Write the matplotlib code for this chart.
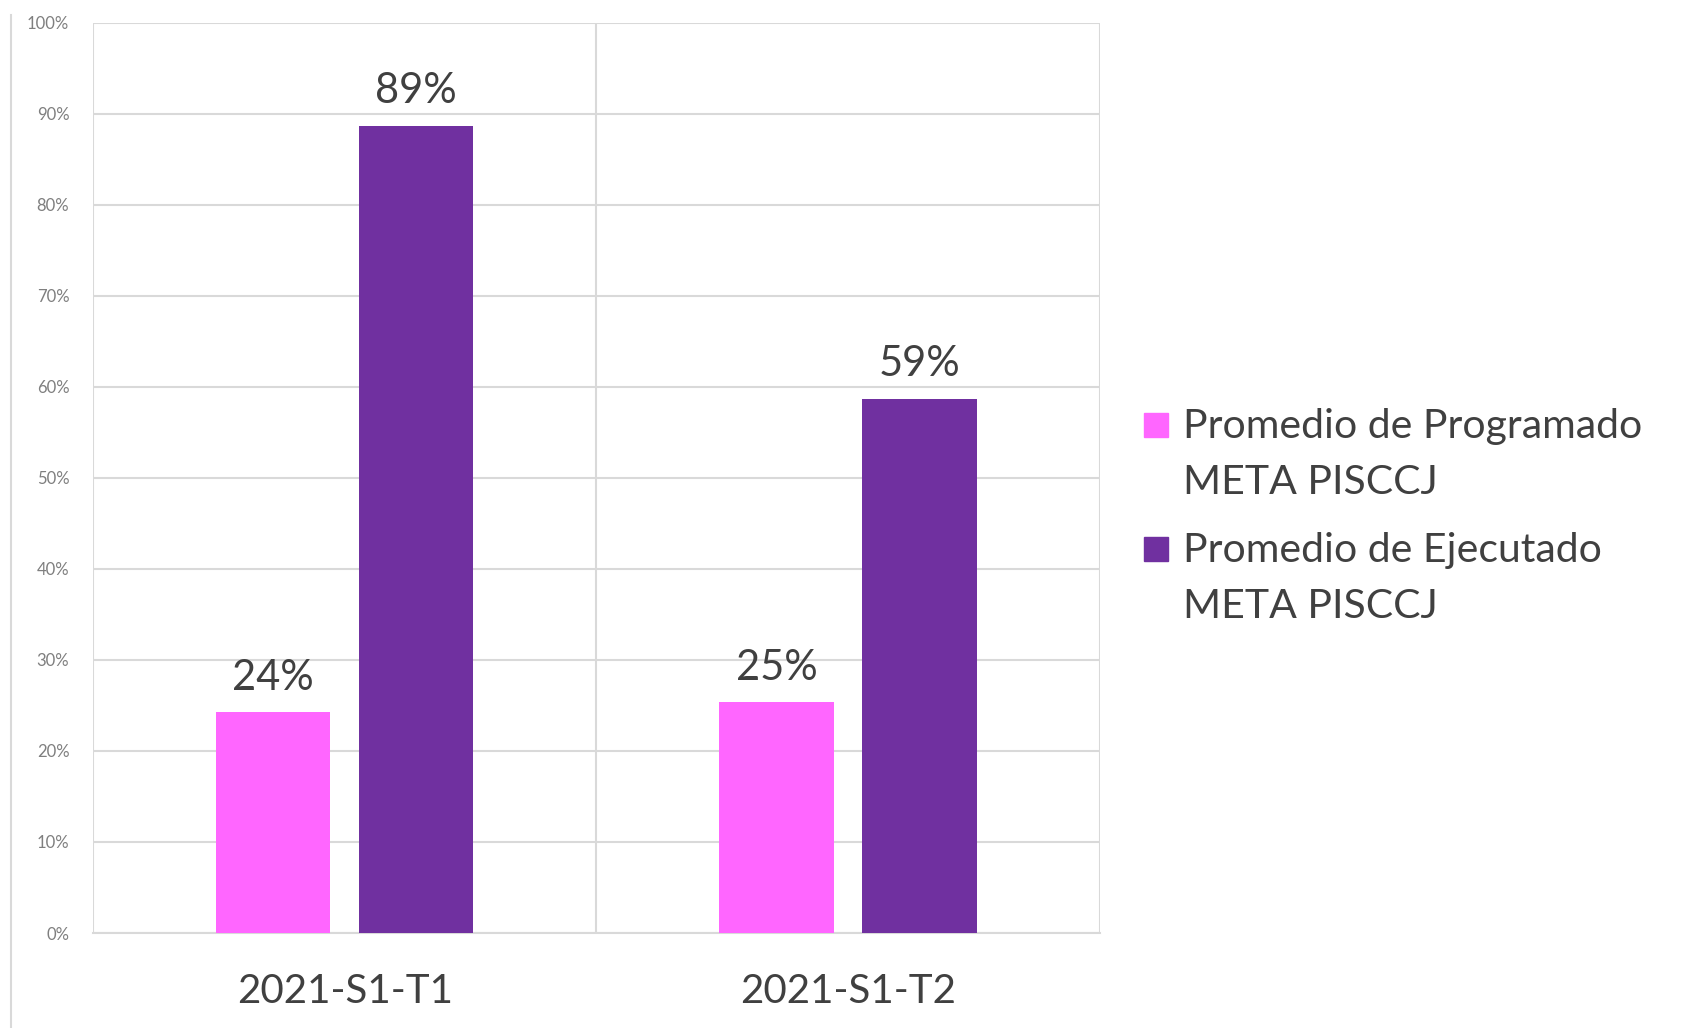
import numpy as np
import matplotlib.pyplot as plt
from matplotlib.patches import Rectangle
from matplotlib.lines import Line2D

# datos del gráfico
periodos = ['2021-S1-T1', '2021-S1-T2']
programado = [24.3, 25.4]
ejecutado = [88.7, 58.7]
series = ['Promedio de Programado\nMETA PISCCJ', 'Promedio de Ejecutado\nMETA PISCCJ']
colores = ['#FF66FF', '#7030A0']

plt.rcParams['font.family'] = ['Lato', 'DejaVu Sans']

fig = plt.figure(figsize=(16.96, 10.28), dpi=100)
ax = fig.add_axes([0.0548, 0.0924, 0.5936, 0.8855])

x = np.arange(len(periodos))
ancho = 0.227
desp = 0.142
b1 = ax.bar(x - desp, programado, ancho, color=colores[0], zorder=3)
b2 = ax.bar(x + desp, ejecutado, ancho, color=colores[1], zorder=3)

for b in (b1, b2):
    ax.bar_label(b, labels=[f'{v:.0f}%' for v in b.datavalues],
                 padding=11, fontsize=30, color='#404040')

ax.set_xlim(-0.5, len(periodos) - 0.5)
ax.set_ylim(0, 100)
ax.set_yticks(np.arange(0, 101, 10))
ax.set_yticklabels([f'{t}%' for t in range(0, 101, 10)])
ax.set_xticks(x)
ax.set_xticklabels(periodos)
ax.set_xticks(np.arange(-0.5, len(periodos), 0.5), minor=True)

ax.tick_params(axis='y', length=0, pad=17, labelsize=12, labelcolor='#7F7F7F')
ax.tick_params(axis='x', which='major', length=0, pad=29, labelsize=29, labelcolor='#404040')
ax.tick_params(axis='x', which='minor', length=0)

ax.grid(axis='y', color='#D9D9D9', linewidth=1.5, zorder=0)
ax.grid(axis='x', which='minor', color='#D9D9D9', linewidth=1.5, zorder=0)
for s in ax.spines.values():
    s.set_visible(False)
ax.spines['bottom'].set_visible(True)
ax.spines['bottom'].set_color('#D9D9D9')
ax.spines['bottom'].set_linewidth(1.5)

# borde izquierdo de la imagen
fig.add_artist(Line2D([0.0065, 0.0065], [0.0, 0.985], color='#D9D9D9', linewidth=1.5))

# leyenda manual (cuadro alineado con la primera línea)
ley_base = [438, 562]
for col, txt, yb in zip(colores, series, ley_base):
    fig.add_artist(Rectangle((1144 / 1696, 1 - (yb - 1) / 1028), 24 / 1696, 24 / 1028,
                             transform=fig.transFigure, color=col))
    for i, linea in enumerate(txt.split('\n')):
        fig.text(1183 / 1696, 1 - (yb + 56 * i) / 1028, linea, fontsize=29.5,
                 color='#404040', va='baseline', ha='left')

fig.savefig('out.png', dpi=100)
